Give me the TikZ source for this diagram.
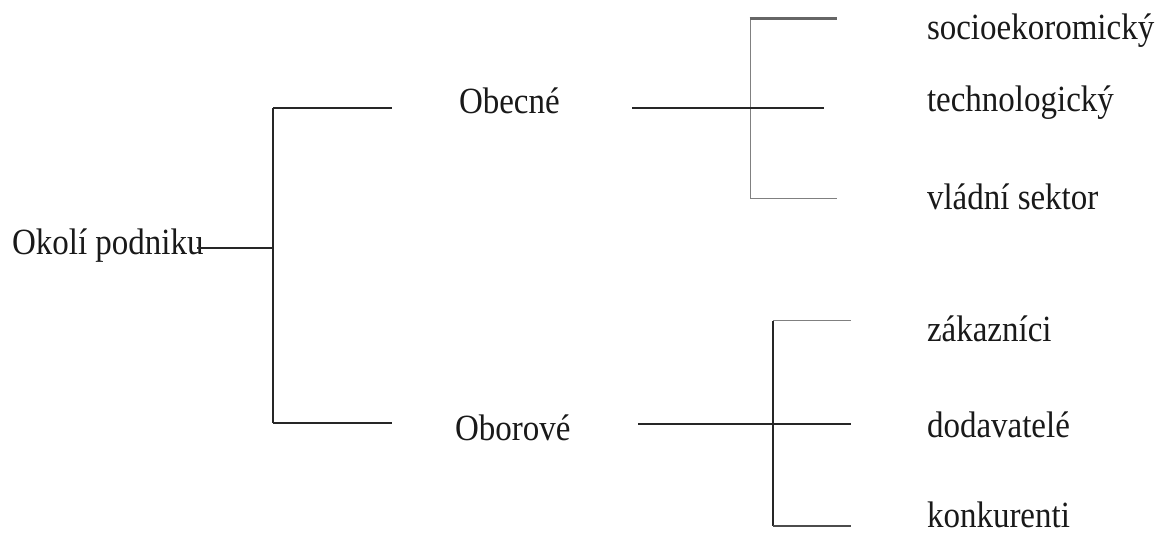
\documentclass[tikz,border=0pt]{standalone}
\usepackage{fontspec}
\setmainfont{Liberation Serif}
\newcommand{\stretchtxt}[1]{\scalebox{1}[1.12]{#1}}
\begin{document}
\begin{tikzpicture}[x=1bp,y=-1bp,
  lbl/.style={anchor=base west,inner sep=0pt,outer sep=0pt,text=black!90,font=\fontsize{33bp}{40bp}\selectfont},
  ln/.style={draw=black!85,line width=1.6bp},
  thin/.style={draw=black!50,line width=1bp},
  thick/.style={draw=black!60,line width=3bp},
  thickd/.style={draw=black!70,line width=2.6bp}]
\useasboundingbox (0,0) rectangle (1165,533);
\fill[white] (0,0) rectangle (1165,533);
% texts
\node[lbl] (root) at (12,255) {\stretchtxt{Okolí podniku}};
\node[lbl] (obec) at (459,114) {\stretchtxt{Obecné}};
\node[lbl] (obor) at (455,440) {\stretchtxt{Oborové}};
\node[lbl] (s1) at (927,40) {\stretchtxt{socioekoromický}};
\node[lbl] (s2) at (927,112) {\stretchtxt{technologický}};
\node[lbl] (s3) at (927,210) {\stretchtxt{vládní sektor}};
\node[lbl] (z1) at (927,342) {\stretchtxt{zákazníci}};
\node[lbl] (z2) at (927,437) {\stretchtxt{dodavatelé}};
\node[lbl] (z3) at (927,527) {\stretchtxt{konkurenti}};
% root bracket
\coordinate (r0) at (197,248);
\coordinate (rj) at (273,248);
\coordinate (rt) at (273,108);
\coordinate (rb) at (273,423);
\coordinate (rte) at (392,108);
\coordinate (rbe) at (392,423);
\draw[ln] (r0) -- (rj);
\draw[ln] (rt) -- (rb);
\draw[ln] (rt) -- (rte);
\draw[ln] (rb) -- (rbe);
\draw[draw=black!85,line width=2.6bp] (273,343) -- (273,375);
% upper group
\coordinate (a0) at (632,108);
\coordinate (a1) at (824,108);
\coordinate (at) at (750,19);
\coordinate (ab) at (750,199);
\coordinate (ate) at (837,19);
\coordinate (abe) at (837,199);
\draw[thin] (at) -- (ab);
\draw[thin] (ab) -- (abe);
\draw[thick] (749.5,19) -- (ate);
\draw[ln] (a0) -- (a1);
% lower group
\coordinate (b0) at (638,424);
\coordinate (b1) at (851,424);
\coordinate (bt) at (773,321);
\coordinate (bb) at (773,526);
\coordinate (bte) at (851,321);
\coordinate (bbe) at (851,526);
\draw[ln] (bt) -- (bb);
\draw[thin] (bt) -- (bte);
\draw[thickd] (772.5,526) -- (bbe);
\draw[ln] (b0) -- (b1);
\end{tikzpicture}
\end{document}
